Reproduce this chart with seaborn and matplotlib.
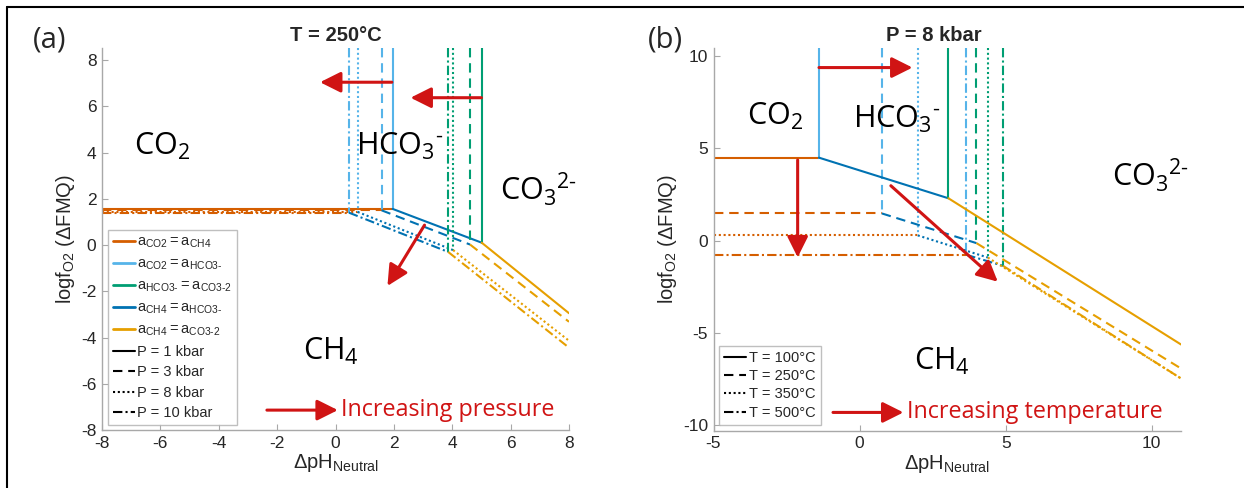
import numpy as np
import pandas as pd
import matplotlib
matplotlib.use("Agg")
import matplotlib.pyplot as plt
from matplotlib.lines import Line2D
import seaborn as sns

# ---------------- data ----------------
# Panel (a): T = 250 C, varying pressure
P_labels = ['P = 1 kbar', 'P = 3 kbar', 'P = 8 kbar', 'P = 10 kbar']
a_x_co2_hco3 = [1.96, 1.58, 0.76, 0.46]      # a_CO2 = a_HCO3- (vertical)
a_x_hco3_co3 = [5.01, 4.61, 4.03, 3.86]      # a_HCO3- = a_CO3-2 (vertical)
a_y_co2_ch4 = [1.56, 1.50, 1.43, 1.40]       # a_CO2 = a_CH4 level
a_y_triple = [0.10, 0.02, -0.22, -0.30]      # CH4/HCO3-/CO3-2 junction
a_y_end = [-2.95, -3.32, -4.14, -4.44]       # a_CH4 = a_CO3-2 at right edge

# Panel (b): P = 8 kbar, varying temperature
T_labels = ['T = 100°C', 'T = 250°C', 'T = 350°C', 'T = 500°C']
b_x_co2_hco3 = [-1.39, 0.76, 1.99, 3.65]
b_x_hco3_co3 = [3.04, 4.00, 4.39, 4.91]
b_y_co2_ch4 = [4.49, 1.47, 0.28, -0.77]
b_y_triple = [2.29, -0.14, -0.92, -1.37]
b_y_end = [-5.63, -6.93, -7.47, -7.47]

H = '\u2010'  # short hyphen
boundaries = ['CO2=CH4', 'CO2=HCO3', 'HCO3=CO3', 'CH4=HCO3', 'CH4=CO3']
boundary_labels = [r'$\mathregular{a_{CO2} = a_{CH4}}$',
                   r'$\mathregular{a_{CO2} = a_{HCO3' + H + '}}$',
                   r'$\mathregular{a_{HCO3' + H + '} = a_{CO3' + H + '2}}$',
                   r'$\mathregular{a_{CH4} = a_{HCO3' + H + '}}$',
                   r'$\mathregular{a_{CH4} = a_{CO3' + H + '2}}$']
colors = ['#D55E00', '#56B4E9', '#009E73', '#0072B2', '#E69F00']
RED = '#D01414'

a_xlim, a_ylim = (-8, 8), (-8, 8.52)
b_xlim, b_ylim = (-5, 11), (-10.3, 10.43)


def build(xc, xg, yo, yt, ye, labels, xlim, ylim):
    rows = []
    seg = 0
    for i, lab in enumerate(labels):
        segs = {
            'CO2=CH4': [(xlim[0], yo[i]), (xc[i], yo[i])],
            'CO2=HCO3': [(xc[i], ylim[1]), (xc[i], yo[i])],
            'CH4=HCO3': [(xc[i], yo[i]), (xg[i], yt[i])],
            'HCO3=CO3': [(xg[i], ylim[1]), (xg[i], yt[i])],
            'CH4=CO3': [(xg[i], yt[i]), (xlim[1], ye[i])],
        }
        for b, pts in segs.items():
            for k, (x, y) in enumerate(pts):
                rows.append(dict(x=x, y=y, boundary=b, cond=lab, seg=seg, order=k))
            seg += 1
    return pd.DataFrame(rows)


sns.set_theme(style='ticks')
plt.rcParams['font.family'] = ['Liberation Sans', 'DejaVu Sans']
plt.rcParams['xtick.direction'] = 'in'
plt.rcParams['ytick.direction'] = 'in'
plt.rcParams['axes.unicode_minus'] = False

fig = plt.figure(figsize=(12.44, 4.88), dpi=100)
axA = fig.add_axes([102 / 1244, 58 / 488, 467 / 1244, 382 / 488])
axB = fig.add_axes([713.5 / 1244, 57.3 / 488, 467.5 / 1244, 382.7 / 488])

palette = dict(zip(boundaries, colors))
styles_a = dict(zip(P_labels, ['', (4.5, 2.8), (1, 1.3), (4.5, 1.5, 1, 1.5)]))
styles_b = dict(zip(T_labels, ['', (4.5, 2.8), (1, 1.3), (4.5, 1.5, 1, 1.5)]))

dfA = build(a_x_co2_hco3, a_x_hco3_co3, a_y_co2_ch4, a_y_triple, a_y_end, P_labels, a_xlim, a_ylim)
dfB = build(b_x_co2_hco3, b_x_hco3_co3, b_y_co2_ch4, b_y_triple, b_y_end, T_labels, b_xlim, b_ylim)

for ax, df, sty, xlim, ylim in [(axA, dfA, styles_a, a_xlim, a_ylim),
                                (axB, dfB, styles_b, b_xlim, b_ylim)]:
    sns.lineplot(data=df, x='x', y='y', hue='boundary', style='cond', units='seg',
                 estimator=None, sort=False, palette=palette, dashes=sty,
                 linewidth=1.5, legend=False, ax=ax)
    ax.set_xlim(*xlim)
    ax.set_ylim(*ylim)
    sns.despine(ax=ax)
    for s in ['left', 'bottom']:
        ax.spines[s].set_color('#a8a8a8')
        ax.spines[s].set_linewidth(1.0)
    ax.tick_params(axis='both', colors='#a8a8a8', labelcolor='#262626',
                   labelsize=12.5, length=4, width=0.8, pad=4)
    ax.set_xlabel(r'$\mathregular{\Delta pH_{Neutral}}$', fontsize=14.5, color='#262626', labelpad=1)
    ax.set_ylabel(r'$\mathregular{logf_{O2}}$ (ΔFMQ)', fontsize=14.5, color='#262626', labelpad=3)
    ax.patch.set_alpha(0)

axA.set_xticks([-8, -6, -4, -2, 0, 2, 4, 6, 8])
axA.set_yticks([-8, -6, -4, -2, 0, 2, 4, 6, 8])
axB.set_xticks([-5, 0, 5, 10])
axB.set_yticks([-10, -5, 0, 5, 10])

axA.set_title('T = 250°C', fontsize=14.5, fontweight='bold', pad=5)
axB.set_title('P = 8 kbar', fontsize=14.5, fontweight='bold', pad=5, x=0.472)

# region labels
lab_font = dict(family=['Open Sans', 'DejaVu Sans'], fontsize=22, color='black',
                ha='left', va='baseline')
axA.text(-6.90, 3.89, r'$\mathregular{CO_2}$', **lab_font)
axA.text(0.69, 3.89, r'$\mathregular{HCO_3{}^{' + H + '}}$', **lab_font)
axA.text(5.63, 1.95, r'$\mathregular{CO_3{}^{2' + H + '}}$', **lab_font)
axA.text(-1.13, -4.97, r'$\mathregular{CH_4}$', **lab_font)
axB.text(-3.87, 6.26, r'$\mathregular{CO_2}$', **lab_font)
axB.text(-0.23, 6.08, r'$\mathregular{HCO_3{}^{' + H + '}}$', **lab_font)
axB.text(8.63, 2.92, r'$\mathregular{CO_3{}^{2' + H + '}}$', **lab_font)
axB.text(1.86, -7.02, r'$\mathregular{CH_4}$', **lab_font)

# red arrows
arrow_kw = dict(arrowstyle='-|>,head_length=0.9,head_width=0.45', color=RED,
                lw=2.2, mutation_scale=14, shrinkA=0, shrinkB=0)
for (x0, y0, x1, y1) in [(1.93, 7.04, -0.53, 7.04), (5.0, 6.37, 2.57, 6.37),
                         (3.05, 0.86, 1.78, -1.77), (-2.35, -7.14, 0.08, -7.14)]:
    axA.annotate('', xy=(x1, y1), xytext=(x0, y0), arrowprops=arrow_kw)
for (x0, y0, x1, y1) in [(-1.39, 9.37, 1.81, 9.37), (-2.12, 4.36, -2.12, -0.91),
                         (1.07, 2.97, 4.73, -2.23), (-0.91, -9.31, 1.5, -9.31)]:
    axB.annotate('', xy=(x1, y1), xytext=(x0, y0), arrowprops=arrow_kw)

txt_font = dict(family=['Open Sans', 'DejaVu Sans'], fontsize=16.8, color=RED,
                ha='left', va='center')
axA.text(0.18, -7.14, 'Increasing pressure', **txt_font)
axB.text(1.61, -9.31, 'Increasing temperature', **txt_font)

# legends
handlesA = [Line2D([], [], color=c, lw=2) for c in colors]
handlesA += [Line2D([], [], color='black', lw=1.5, dashes=d) if d else
             Line2D([], [], color='black', lw=1.5) for d in styles_a.values()]
legA = axA.legend(handlesA, boundary_labels + P_labels, loc='lower left',
                  bbox_to_anchor=(0.012, 0.012), fontsize=10.5, handlelength=1.5,
                  handletextpad=0.2, labelspacing=0.45, borderpad=0.35,
                  frameon=True, fancybox=False, edgecolor='#b0b0b0',
                  borderaxespad=0)
legA.get_frame().set_linewidth(1.0)
handlesB = [Line2D([], [], color='black', lw=1.5, dashes=d) if d else
            Line2D([], [], color='black', lw=1.5) for d in styles_b.values()]
legB = axB.legend(handlesB, T_labels, loc='lower left',
                  bbox_to_anchor=(0.012, 0.015), fontsize=10.5, handlelength=1.5,
                  handletextpad=0.2, labelspacing=0.3, borderpad=0.35,
                  frameon=True, fancybox=False, edgecolor='#b0b0b0',
                  borderaxespad=0)
legB.get_frame().set_linewidth(1.0)

# panel letters
fig.text(50 / 1244, 1 - 40 / 488, '(a)', fontsize=21, ha='center', va='center',
         family=['Open Sans', 'DejaVu Sans'])
fig.text(665 / 1244, 1 - 40 / 488, '(b)', fontsize=21, ha='center', va='center',
         family=['Open Sans', 'DejaVu Sans'])

# outer frame lines of the original figure
fig.add_artist(Line2D([7 / 1244, 1.0], [1 - 7 / 488, 1 - 7 / 488],
                      transform=fig.transFigure, color='black', lw=1.5))
fig.add_artist(Line2D([7 / 1244, 7 / 1244], [0, 1 - 7 / 488],
                      transform=fig.transFigure, color='black', lw=1.5))

fig.savefig('out.png', dpi=100)
